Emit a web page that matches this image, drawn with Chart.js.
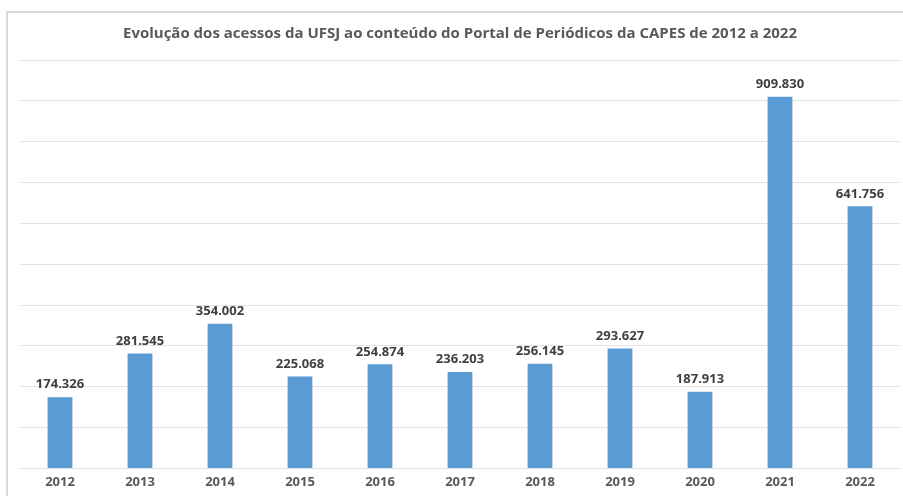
<!DOCTYPE html>
<html lang="pt-BR">
<head>
  <meta charset="UTF-8" />
  <title>Acessos UFSJ - Portal de Periódicos CAPES</title>
  <script src="https://cdn.jsdelivr.net/npm/chart.js@4.4.0/dist/chart.umd.min.js"></script>
  <style>
    html, body { margin: 0; padding: 0; background: #fff; }
    #frame {
      position: absolute; left: 6px; top: 11px;
      width: 903px; height: 490px;
      border-left: 2px solid #d9d9d9; border-top: 2px solid #d9d9d9;
    }
    #wrap { position: absolute; left: 0; top: 0; width: 903px; height: 496px; }
  </style>
</head>
<body>
  <div id="frame"></div>
  <div id="wrap"><canvas id="chart" width="903" height="496"></canvas></div>

  <script>
    // ---- data ------------------------------------------------------------
    const years   = ['2012', '2013', '2014', '2015', '2016', '2017', '2018', '2019', '2020', '2021', '2022'];
    const acessos = [174326, 281545, 354002, 225068, 254874, 236203, 256145, 293627, 187913, 909830, 641756];

    const fmt = v => v.toLocaleString('de-DE');   // 174.326 style

    // ---- value labels above bars -------------------------------------------
    const valueLabels = {
      id: 'valueLabels',
      afterDatasetsDraw(chart) {
        const ctx = chart.ctx;
        const meta = chart.getDatasetMeta(0);
        ctx.save();
        ctx.font = 'bold 13px "Open Sans", sans-serif';
        ctx.fillStyle = '#404040';
        ctx.textAlign = 'center';
        ctx.textBaseline = 'bottom';
        meta.data.forEach((bar, i) => {
          ctx.fillText(fmt(acessos[i]), bar.x, bar.y - 6);
        });
        ctx.restore();
      }
    };

    new Chart(document.getElementById('chart'), {
      type: 'bar',
      data: {
        labels: years,
        datasets: [{
          data: acessos,
          backgroundColor: '#5b9bd5',
          barPercentage: 0.31,
          categoryPercentage: 1
        }]
      },
      options: {
        responsive: false,
        animation: false,
        layout: { padding: { left: 20, right: 3, top: 0, bottom: 0 } },
        scales: {
          x: {
            grid: { display: false, drawTicks: false },
            border: { display: false },
            ticks: {
              color: '#595959', padding: 6,
              font: { family: '"Open Sans", sans-serif', size: 13, weight: 'bold' }
            }
          },
          y: {
            min: 0, max: 1000000,
            ticks: { display: false, stepSize: 100000 },
            border: { display: false },
            grid: { color: '#e3e3e3', drawTicks: false }
          }
        },
        plugins: {
          legend: { display: false },
          tooltip: { enabled: false },
          title: {
            display: true,
            text: 'Evolução dos acessos da UFSJ ao conteúdo do Portal de Periódicos da CAPES de 2012 a 2022',
            color: '#595959',
            font: { family: '"Open Sans", sans-serif', size: 15, weight: 'bold' },
            padding: { top: 25, bottom: 17 }
          }
        }
      },
      plugins: [valueLabels]
    });
  </script>
</body>
</html>
